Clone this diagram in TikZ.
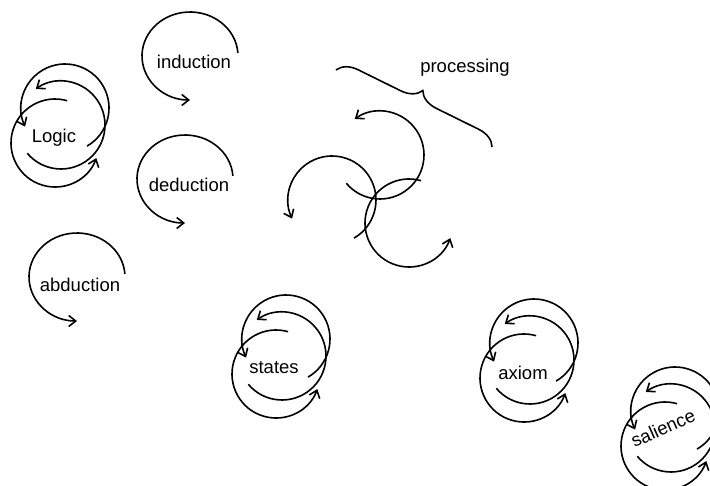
\documentclass[tikz,border=0pt]{standalone}
\usepackage{fontspec}
\setmainfont{Liberation Sans}
\usetikzlibrary{arrows.meta,decorations.pathreplacing,positioning}

\tikzset{
  cyc/.style={line width=1.6pt, -{Straight Barb[length=7pt,width=11pt]}},
  lbl/.style={font=\fontsize{18.5}{21}\selectfont, inner sep=0pt},
}

\begin{document}
\begin{tikzpicture}[x=1pt,y=1pt]
    \useasboundingbox (0,0) rectangle (710,485);
    % Double loops
    \foreach \cx/\cy in {65/377, 286/146, 534/142, 675/74} {
        \draw[cyc] (\cx,\cy) ++(-60:44) arc (-60:205:44);
        \draw[cyc] (\cx-4,\cy-17) ++(220:44) arc (220:485:44);
        \draw[cyc] (\cx-10,\cy-35) ++(74:44) arc (74:340:44);
    }
    \node[lbl] (logic) at (54,347) {Logic};
    \node[lbl] (states) at (274,117) {states};
    \node[lbl] (axiom) at (523,112) {axiom};
    \node[lbl, rotate=24] (salience) at (663,57) {salience};
    % Single loops
    \foreach \cx/\cy in {190/429, 185/306, 77/208}
        \draw[cyc] (\cx,\cy) ++(4:48 and 44) arc[start angle=4, end angle=270, x radius=48, y radius=44];
    \node[lbl] (induction) at (194,423) {induction};
    \node[lbl] (deduction) at (189,300) {deduction};
    \node[lbl] (abduction) at (80,200) {abduction};
    % Processing
    \draw[cyc] (332,285) ++(-60:44) arc (-60:205:44);
    \draw[cyc] (380,330) ++(220:44) arc (220:485:44);
    \draw[cyc] (409,262) ++(74:44) arc (74:340:44);
    \coordinate (bstart) at (336,415);
    \coordinate (bend) at (492,338);
    \draw[line width=1.6pt, decorate, decoration={brace, amplitude=20pt}] (bstart) -- (bend);
    \node[lbl] (processing) at (465,417) {processing};
\end{tikzpicture}
\end{document}
